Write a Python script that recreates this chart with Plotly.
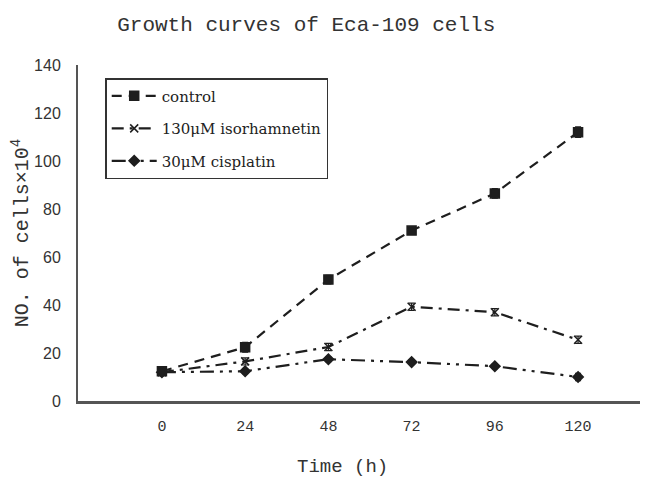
import plotly.graph_objects as go

hours = [0, 24, 48, 72, 96, 120]
tick_labels = ["0", "24", "48", "72", "96", "120"]
control = [12.4, 22.4, 50.6, 71.0, 86.5, 112.0]
control_err = [1.5, 2.0, 1.8, 1.5, 2.0, 2.2]
isorhamnetin = [12.0, 16.5, 22.5, 39.3, 37.0, 25.5]
isorhamnetin_err = [1.0, 1.5, 1.5, 1.5, 1.5, 1.5]
cisplatin = [12.0, 12.4, 17.4, 16.2, 14.5, 10.0]
cisplatin_err = [1.0, 1.0, 1.0, 1.0, 1.0, 1.5]

ink = "#1e1e1e"
txt = "#333333"
mono = "Liberation Mono, DejaVu Sans Mono, monospace"
fig = go.Figure()

def add(name, y, err, symbol, size, dash, grp):
    fig.add_trace(go.Scatter(
        x=hours, y=y, name=name, mode="lines+markers",
        line=dict(color=ink, width=2.2, dash=dash),
        marker=dict(symbol=symbol, size=size, color=ink,
                    line=dict(color=ink, width=1.5)),
        error_y=dict(type="data", array=err, color=ink, thickness=1.2, width=3),
        legendgroup=grp,
    ))

add("control", control, control_err, "square", 9, "10px,7px", "a")
add("130μM isorhamnetin", isorhamnetin, isorhamnetin_err, "x-thin", 8, "12px,6px,3px,6px", "b")
add("30μM cisplatin", cisplatin, cisplatin_err, "diamond", 8, "14px,6px,3px,6px,3px,6px", "c")

fig.update_layout(
    width=640, height=469,
    margin=dict(l=70, r=3, t=57, b=76),
    plot_bgcolor="white", paper_bgcolor="white",
    title=dict(text="Growth curves of Eca-109 cells", x=0.466, xanchor="center",
               y=0.966, yanchor="middle",
               font=dict(family=mono, size=21, color=txt)),
    xaxis=dict(range=[-24.2, 139.3], tickvals=hours, ticktext=tick_labels,
               ticks="", ticklabelstandoff=9,
               tickfont=dict(family=mono, size=15, color=txt),
               showgrid=False, zeroline=False, showline=True,
               linecolor="#555", linewidth=2.5),
    yaxis=dict(range=[0, 140], dtick=20, ticks="", ticklabelstandoff=12,
               showgrid=False, zeroline=False,
               showline=True, linecolor="#555", linewidth=2,
               tickfont=dict(family="Liberation Sans, Arial", size=16, color=txt),
               title=dict(text="NO. of cells×10<sup>4</sup>", standoff=8,
                          font=dict(family=mono, size=20, color=txt))),
    legend=dict(x=0.048, y=0.961, xanchor="left", yanchor="top",
                bgcolor="white", bordercolor="#333", borderwidth=1.5,
                traceorder="grouped", tracegroupgap=10, itemwidth=45,
                font=dict(family="DejaVu Serif, Liberation Serif", size=15, color="#222")),
    annotations=[dict(text="Time (h)", xref="paper", yref="paper",
                      x=0.467, y=-0.196, xanchor="center", yanchor="middle",
                      showarrow=False, font=dict(family=mono, size=19, color=txt))],
    showlegend=True,
)

fig.write_html("out.html")
